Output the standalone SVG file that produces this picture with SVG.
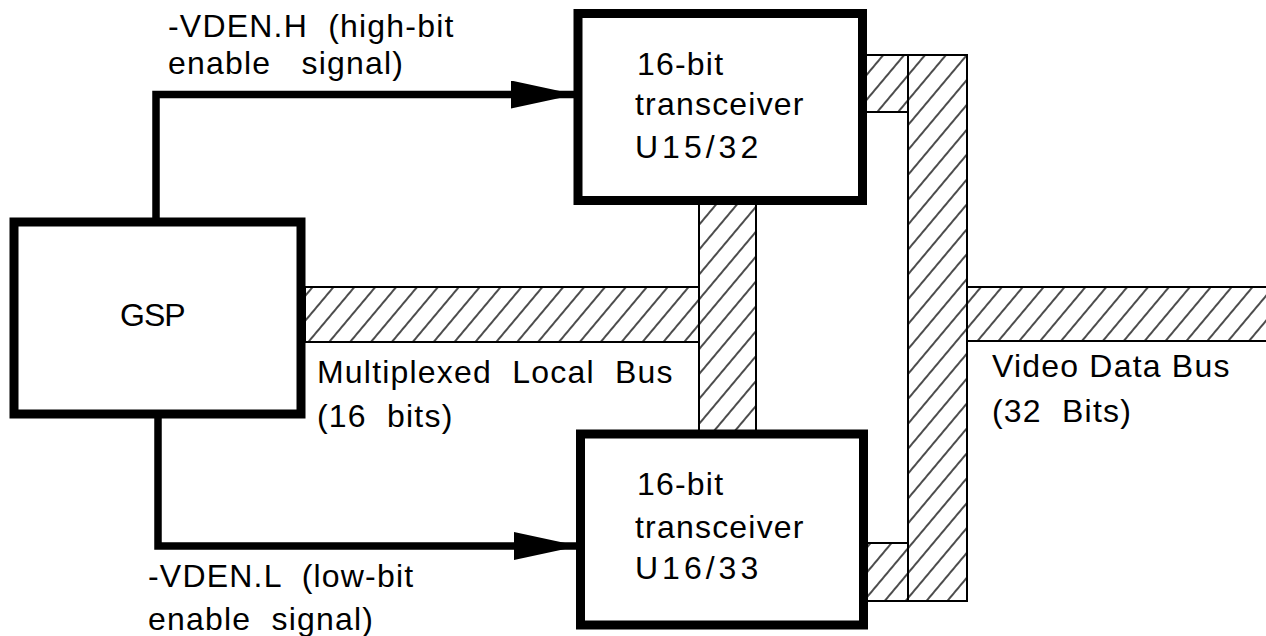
<svg xmlns="http://www.w3.org/2000/svg" width="1266" height="636" viewBox="0 0 1266 636">
<style>
  .box { fill: #fff; stroke: #000; stroke-width: 9; }
  .bus { fill: url(#hatch); stroke: #000; stroke-width: 2; }
  .wire { fill: none; stroke: #000; stroke-width: 7.5; stroke-linejoin: miter; }
  text { font-family: "Liberation Sans", Arial, sans-serif; font-size: 32px; fill: #000; letter-spacing: 1.2px; }
  .sp { letter-spacing: 4px; }
</style>
<defs>
  <pattern id="hatch" patternUnits="userSpaceOnUse" width="16" height="16" patternTransform="rotate(40)">
    <rect width="16" height="16" fill="#fff"/>
    <path d="M8,0 V16" stroke="#000" stroke-width="1.4"/>
  </pattern>
  <marker id="arrow" markerUnits="userSpaceOnUse" markerWidth="66" markerHeight="28" refX="64" refY="14" orient="auto">
    <path d="M0,0 L65,14 L0,28 z" fill="#000"/>
  </marker>
</defs>

<g id="buses">
  <rect id="bus-local" class="bus" x="305" y="287" width="394" height="55"/>
  <rect id="bus-video" class="bus" x="967" y="287" width="305" height="54"/>
  <rect id="bus-mid" class="bus" x="699" y="200" width="57" height="236"/>
  <rect id="bus-top-stub" class="bus" x="862" y="55" width="46" height="57"/>
  <rect id="bus-bot-stub" class="bus" x="864" y="543" width="46" height="58"/>
  <rect id="bus-vert" class="bus" x="908" y="55" width="59" height="546"/>
</g>

<g id="connectors">
  <polyline id="conn-h" class="wire" points="156,218 156,94.5 575,94.5" marker-end="url(#arrow)"/>
  <polyline id="conn-l" class="wire" points="158,414 158,546 578,546" marker-end="url(#arrow)"/>
</g>

<g id="node-gsp">
  <rect class="box" x="14" y="222" width="287" height="192"/>
  <text x="120" y="326" style="letter-spacing:-1px">GSP</text>
</g>

<g id="node-u15">
  <rect class="box" x="578" y="13.5" width="284.5" height="187"/>
  <text x="637" y="75">16-bit</text>
  <text x="635" y="115">transceiver</text>
  <text x="635" y="158" class="sp">U15/32</text>
</g>

<g id="node-u16">
  <rect class="box" x="580.5" y="434" width="283" height="191"/>
  <text x="637" y="495">16-bit</text>
  <text x="635" y="538">transceiver</text>
  <text x="635" y="579" class="sp">U16/33</text>
</g>

<g id="labels">
  <text x="168" y="37" xml:space="preserve">-VDEN.H  (high-bit</text>
  <text x="168" y="74" xml:space="preserve">enable   signal)</text>
  <text x="317" y="383" xml:space="preserve">Multiplexed  Local  Bus</text>
  <text x="317" y="427" xml:space="preserve">(16  bits)</text>
  <text x="992" y="377">Video Data Bus</text>
  <text x="992" y="422" xml:space="preserve">(32  Bits)</text>
  <text x="148" y="587" xml:space="preserve">-VDEN.L  (low-bit</text>
  <text x="148" y="630" xml:space="preserve">enable  signal)</text>
</g>
</svg>
